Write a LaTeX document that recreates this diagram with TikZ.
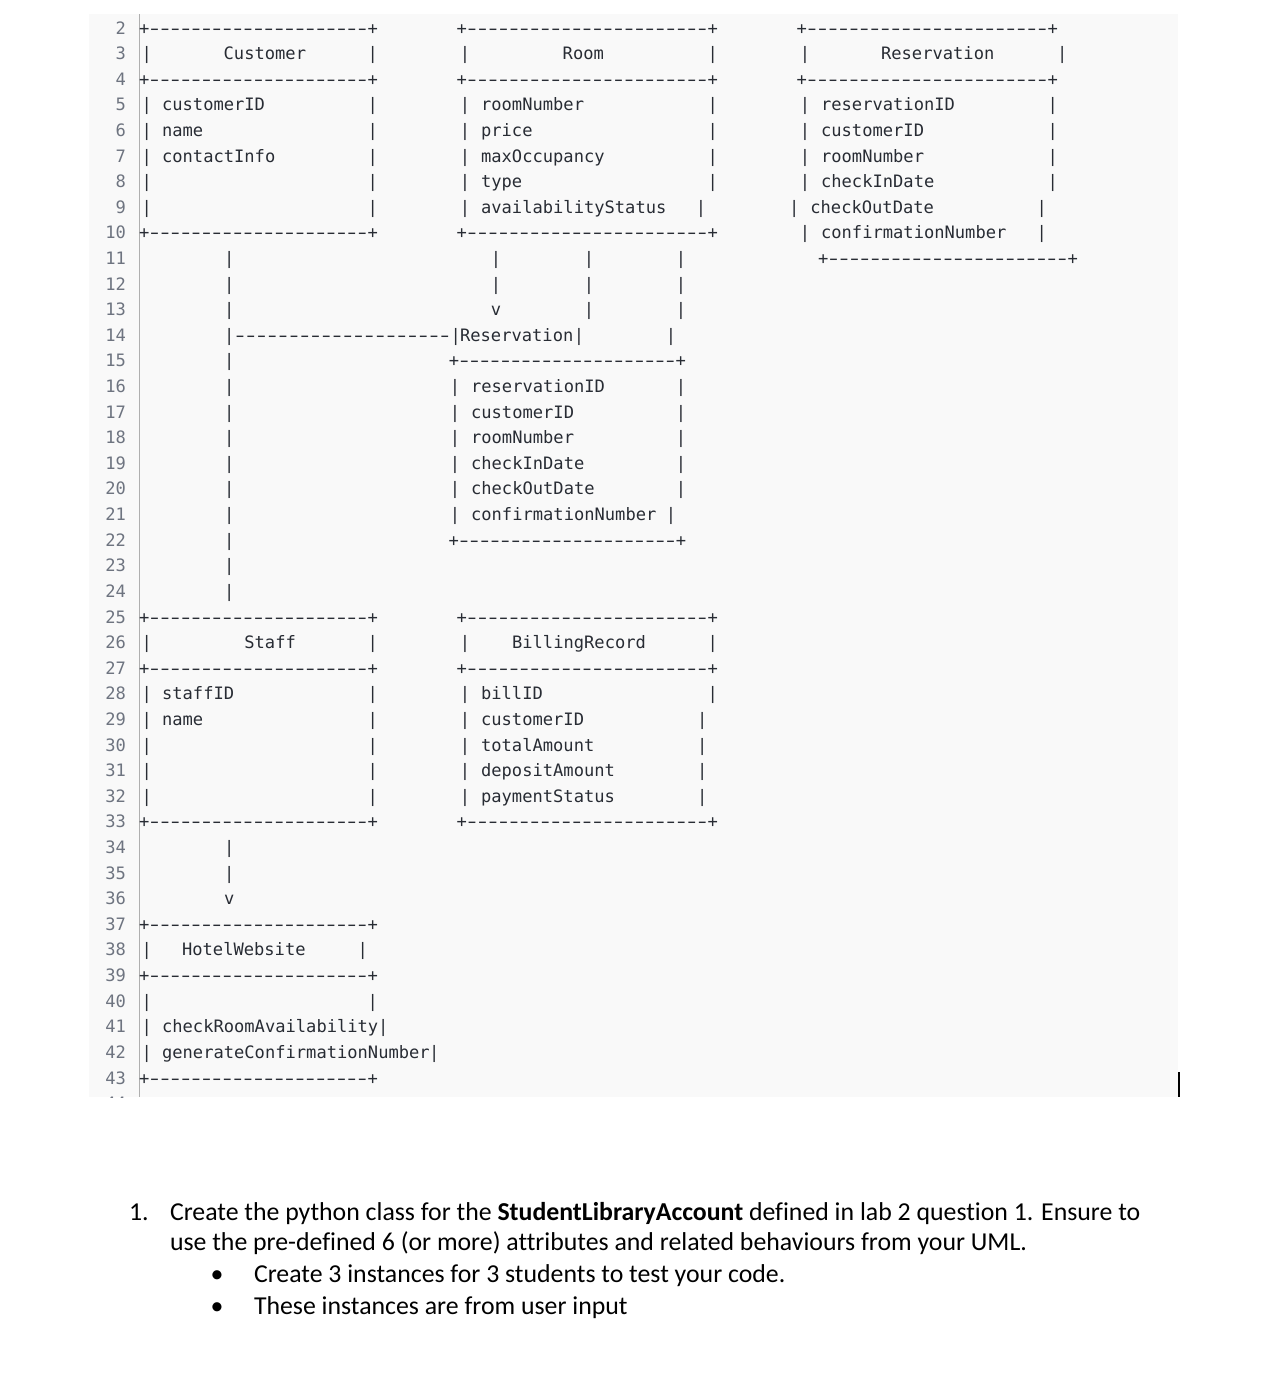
\documentclass[tikz,border=0pt]{standalone}
\usepackage{graphicx}
\usepackage{fontspec}
\setmonofont{DejaVu Sans Mono}
\newfontfamily\qfont{Carlito}[Ligatures=NoCommon]
\definecolor{blockbg}{RGB}{249,249,249}
\definecolor{codeink}{RGB}{40,44,52}
\definecolor{lnink}{RGB}{110,116,128}
\definecolor{gutter}{RGB}{175,175,175}
\newcommand\LNy[1]{34+(#1-2)*25.61}
\newcommand\dsh{\hbox to 10.3pt{\hss\scalebox{1.55}[1]{-}\hss}}
\newcommand\Pp[3]{\node[cd,anchor=base] (#1) at (#2,{\LNy{#3}}) {|};}
\newcommand\Vv[3]{\node[cd,anchor=base] (#1) at (#2,{\LNy{#3}}) {v};}
\newcommand\Tx[4]{\node[cd,anchor=base west] (#1) at ({#2-0.6},{\LNy{#3}}) {#4};}
\newcommand\Dr[4]{\node[cd,anchor=base west] (#1) at ({#2-5.15},{\LNy{#4}}) {\hbox to \dimexpr #3pt-#2pt+10.3pt\relax{+\xleaders\dsh\hfil+}};}
\newcommand\Dl[4]{\node[cd,anchor=base west] (#1) at (#2,{\LNy{#4}}) {\hbox to \dimexpr #3pt-#2pt\relax{\xleaders\dsh\hfil}};}
\tikzset{
  cd/.style={font=\ttfamily\fontsize{17.1}{20}\selectfont, text=codeink, inner sep=0pt, outer sep=0pt},
  ln/.style={font=\ttfamily\fontsize{17.1}{20}\selectfont, text=lnink, inner sep=0pt, outer sep=0pt, anchor=base east},
  qt/.style={font=\qfont\fontsize{25.8}{30}\selectfont, text=black, inner sep=0pt, outer sep=0pt, anchor=base west},
}
\begin{document}
\begin{tikzpicture}[x=1pt,y=-1pt]
\useasboundingbox (0,0) rectangle (1266,1392);
\fill[white] (0,0) rectangle (1266,1392);
\fill[blockbg] (89,14) rectangle (1177.7,1097);
\draw[gutter, line width=1pt] (139.3,14) -- (139.3,1097);
\fill[black] (1177.7,1072) rectangle (1180.2,1097);
\begin{scope}
\clip (89,14) rectangle (1177.7,1097);
\foreach \n in {2,...,44} {\node[ln] (ln\n) at (126,{\LNy{\n}}) {\n};}
\end{scope}
% line 2-4
\Dr{cT}{144.3}{372.7}{2} \Dr{rT}{461.7}{712.7}{2} \Dr{sT}{801.7}{1052.7}{2}
\Pp{c3l}{146.7}{3} \Tx{cName}{224.3}{3}{Customer} \Pp{c3r}{372.7}{3}
\Pp{r3l}{465}{3} \Tx{rName}{563.3}{3}{Room} \Pp{r3r}{712.7}{3}
\Pp{s3l}{805}{3} \Tx{sName}{881.7}{3}{Reservation} \Pp{s3r}{1062.3}{3}
\Dr{cH}{144.3}{372.7}{4} \Dr{rH}{461.7}{712.7}{4} \Dr{sH}{801.7}{1052.7}{4}
% line 5
\Pp{c5l}{146.7}{5} \Tx{c5}{162.7}{5}{customerID} \Pp{c5r}{372.7}{5}
\Pp{r5l}{465}{5} \Tx{r5}{481.7}{5}{roomNumber} \Pp{r5r}{712.7}{5}
\Pp{s5l}{805}{5} \Tx{s5}{821.7}{5}{reservationID} \Pp{s5r}{1052.7}{5}
% line 6
\Pp{c6l}{146.7}{6} \Tx{c6}{162.7}{6}{name} \Pp{c6r}{372.7}{6}
\Pp{r6l}{465}{6} \Tx{r6}{481.7}{6}{price} \Pp{r6r}{712.7}{6}
\Pp{s6l}{805}{6} \Tx{s6}{821.7}{6}{customerID} \Pp{s6r}{1052.7}{6}
% line 7
\Pp{c7l}{146.7}{7} \Tx{c7}{162.7}{7}{contactInfo} \Pp{c7r}{372.7}{7}
\Pp{r7l}{465}{7} \Tx{r7}{481.7}{7}{maxOccupancy} \Pp{r7r}{712.7}{7}
\Pp{s7l}{805}{7} \Tx{s7}{821.7}{7}{roomNumber} \Pp{s7r}{1052.7}{7}
% line 8
\Pp{c8l}{146.7}{8} \Pp{c8r}{372.7}{8}
\Pp{r8l}{465}{8} \Tx{r8}{481.7}{8}{type} \Pp{r8r}{712.7}{8}
\Pp{s8l}{805}{8} \Tx{s8}{821.7}{8}{checkInDate} \Pp{s8r}{1052.7}{8}
% line 9
\Pp{c9l}{146.7}{9} \Pp{c9r}{372.7}{9}
\Pp{r9l}{465}{9} \Tx{r9}{481.7}{9}{availabilityStatus} \Pp{r9r}{701}{9}
\Pp{s9l}{794.3}{9} \Tx{s9}{811}{9}{checkOutDate} \Pp{s9r}{1041.7}{9}
% line 10
\Dr{cB}{144.3}{372.7}{10} \Dr{rB}{461.7}{712.7}{10}
\Pp{s10l}{805}{10} \Tx{s10}{821.7}{10}{confirmationNumber} \Pp{s10r}{1041.7}{10}
% line 11-13
\Pp{v11a}{229.3}{11} \Pp{v11b}{496}{11} \Pp{v11c}{589}{11} \Pp{v11d}{681}{11}
\Dr{sB}{823.3}{1072.7}{11}
\Pp{v12a}{229.3}{12} \Pp{v12b}{496}{12} \Pp{v12c}{589}{12} \Pp{v12d}{681}{12}
\Pp{v13a}{229.3}{13} \Vv{v13b}{496}{13} \Pp{v13c}{589}{13} \Pp{v13d}{681}{13}
% line 14
\Pp{v14a}{229.3}{14} \Dl{d14}{234.45}{450.55}{14}
\Pp{m14l}{455.7}{14} \Tx{mName}{460.7}{14}{Reservation} \Pp{m14r}{579}{14} \Pp{v14d}{671}{14}
% line 15
\Pp{v15a}{229.3}{15} \Dr{mH}{454}{680.7}{15}
% lines 16-21
\Pp{v16a}{229.3}{16} \Pp{m16l}{455}{16} \Tx{m16}{471.7}{16}{reservationID} \Pp{m16r}{681}{16}
\Pp{v17a}{229.3}{17} \Pp{m17l}{455}{17} \Tx{m17}{471.7}{17}{customerID} \Pp{m17r}{681}{17}
\Pp{v18a}{229.3}{18} \Pp{m18l}{455}{18} \Tx{m18}{471.7}{18}{roomNumber} \Pp{m18r}{681}{18}
\Pp{v19a}{229.3}{19} \Pp{m19l}{455}{19} \Tx{m19}{471.7}{19}{checkInDate} \Pp{m19r}{681}{19}
\Pp{v20a}{229.3}{20} \Pp{m20l}{455}{20} \Tx{m20}{471.7}{20}{checkOutDate} \Pp{m20r}{681}{20}
\Pp{v21a}{229.3}{21} \Pp{m21l}{455}{21} \Tx{m21}{471.7}{21}{confirmationNumber} \Pp{m21r}{671}{21}
% lines 22-24
\Pp{v22a}{229.3}{22} \Dr{mB}{453.8}{681}{22}
\Pp{v23a}{229.3}{23}
\Pp{v24a}{229.3}{24}
% lines 25-27
\Dr{fT}{144.3}{372.7}{25} \Dr{bT}{461.7}{712.7}{25}
\Pp{f26l}{146.7}{26} \Tx{fName}{245}{26}{Staff} \Pp{f26r}{372.7}{26}
\Pp{b26l}{465}{26} \Tx{bName}{512.7}{26}{BillingRecord} \Pp{b26r}{712.7}{26}
\Dr{fH}{144.3}{372.7}{27} \Dr{bH}{461.7}{712.7}{27}
% lines 28-32
\Pp{f28l}{146.7}{28} \Tx{f28}{162.7}{28}{staffID} \Pp{f28r}{372.7}{28}
\Pp{b28l}{465}{28} \Tx{b28}{481.7}{28}{billID} \Pp{b28r}{712.7}{28}
\Pp{f29l}{146.7}{29} \Tx{f29}{162.7}{29}{name} \Pp{f29r}{372.7}{29}
\Pp{b29l}{465}{29} \Tx{b29}{481.7}{29}{customerID} \Pp{b29r}{702.3}{29}
\Pp{f30l}{146.7}{30} \Pp{f30r}{372.7}{30}
\Pp{b30l}{465}{30} \Tx{b30}{481.7}{30}{totalAmount} \Pp{b30r}{702.3}{30}
\Pp{f31l}{146.7}{31} \Pp{f31r}{372.7}{31}
\Pp{b31l}{465}{31} \Tx{b31}{481.7}{31}{depositAmount} \Pp{b31r}{702.3}{31}
\Pp{f32l}{146.7}{32} \Pp{f32r}{372.7}{32}
\Pp{b32l}{465}{32} \Tx{b32}{481.7}{32}{paymentStatus} \Pp{b32r}{702.3}{32}
\Dr{fB}{144.3}{372.7}{33} \Dr{bB}{461.7}{712.7}{33}
% lines 34-36
\Pp{v34}{229.3}{34} \Pp{v35}{229.3}{35} \Vv{v36}{229.3}{36}
% lines 37-43
\Dr{hT}{144.3}{372.7}{37}
\Pp{h38l}{146.7}{38} \Tx{hName}{182.7}{38}{HotelWebsite} \Pp{h38r}{362.7}{38}
\Dr{hH}{144.3}{372.7}{39}
\Pp{h40l}{146.7}{40} \Pp{h40r}{372.7}{40}
\Pp{h41l}{146.7}{41} \Tx{h41}{162.7}{41}{checkRoomAvailability} \Pp{h41r}{383.3}{41}
\Pp{h42l}{146.7}{42} \Tx{h42}{162.7}{42}{generateConfirmationNumber} \Pp{h42r}{434.3}{42}
\Dr{hB}{144.3}{372.7}{43}
% question text
\node[qt] (qnum) at (129,1220) {1.};
\node[qt] (q1) at (170,1220) {Create the python class for the \textbf{StudentLibraryAccount} defined in lab 2 question 1. Ensure to};
\node[qt] (q2) at (170,1250) {use the pre-defined 6 (or more) attributes and related behaviours from your UML.};
\node[qt,anchor=base] (bul1) at (217,1282) {\textbullet};
\node[qt] (q3) at (254,1282) {Create 3 instances for 3 students to test your code.};
\node[qt,anchor=base] (bul2) at (217,1314) {\textbullet};
\node[qt] (q4) at (254,1314) {These instances are from user input};
\end{tikzpicture}
\end{document}
